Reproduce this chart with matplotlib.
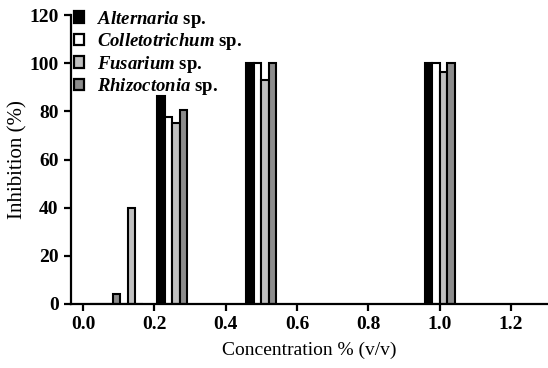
import matplotlib
matplotlib.use("Agg")
import matplotlib.pyplot as plt
import numpy as np
from matplotlib.patches import Patch

# Data
concentrations = [0.0625, 0.125, 0.25, 0.5, 1.0]
species = ["Alternaria", "Colletotrichum", "Fusarium", "Rhizoctonia"]
alternaria = [0, 0, 86.5, 100, 100]
colletotrichum = [0, 0, 77.5, 100, 100]
fusarium = [0, 40, 75, 93, 96.5]
rhizoctonia = [4, 0, 80.5, 100, 100]
series = [alternaria, colletotrichum, fusarium, rhizoctonia]
colors = ["#000000", "#ffffff", "#c0c0c0", "#8c8c8c"]
xticks = [0.0, 0.2, 0.4, 0.6, 0.8, 1.0, 1.2]
yticks = [0, 20, 40, 60, 80, 100, 120]

plt.rcParams['font.family'] = ['Liberation Serif', 'DejaVu Serif']
plt.rcParams['mathtext.fontset'] = 'custom'
plt.rcParams['mathtext.it'] = 'Liberation Serif:italic:bold'
plt.rcParams['mathtext.rm'] = 'Liberation Serif:bold'
plt.rcParams['mathtext.bf'] = 'Liberation Serif:bold'

fig = plt.figure(figsize=(5.48, 3.68), dpi=100)
ax = fig.add_axes([0.1296, 0.174, 0.8704, 0.785])

bw = 0.021
offsets = np.array([-1.5, -0.5, 0.5, 1.5]) * bw
x = np.array(concentrations)
for i, (vals, col) in enumerate(zip(series, colors)):
    ax.bar(x + offsets[i], vals, width=bw, color=col, edgecolor='black',
           linewidth=1.5, zorder=2)

ax.set_xlim(-0.0337, 1.304)
ax.set_ylim(0, 120)
ax.set_xticks(xticks)
ax.set_xticklabels([f"{t:.1f}" for t in xticks])
ax.set_yticks(yticks)
ax.set_yticklabels([str(t) for t in yticks])
for lab in ax.get_xticklabels() + ax.get_yticklabels():
    lab.set_fontweight('bold')
    lab.set_fontsize(14)
ax.tick_params(direction='out', length=5, width=1.6, pad=4)
for s in ['top', 'right']:
    ax.spines[s].set_visible(False)
for s in ['left', 'bottom']:
    ax.spines[s].set_linewidth(1.6)

ax.set_xlabel("Concentration % (v/v)", fontsize=14, labelpad=6)
ax.set_ylabel("Inhibition (%)", fontsize=15, labelpad=1)

handles = [Patch(facecolor=c, edgecolor='black', linewidth=1.6) for c in colors]
labels = [rf"$\mathit{{{s}}}$ sp." for s in species]
leg = ax.legend(handles, labels, loc='upper left', bbox_to_anchor=(0.006, 1.022),
                frameon=False, handlelength=0.55, handleheight=0.55,
                handletextpad=0.7, labelspacing=0.08, borderaxespad=0.0,
                borderpad=0.0,
                prop={'family': 'Liberation Serif', 'weight': 'bold', 'size': 13.5})
leg.set_zorder(5)

fig.savefig("out.png", dpi=100)
